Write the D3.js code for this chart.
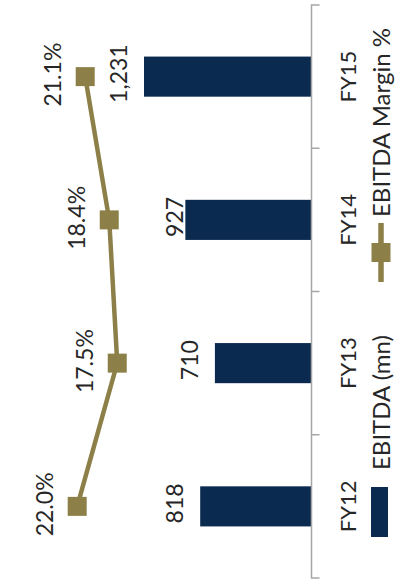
<!DOCTYPE html>
<html>
<head>
<meta charset="utf-8">
<script src="https://cdn.jsdelivr.net/npm/d3@7"></script>
<style>
  html, body { margin: 0; padding: 0; background: #fff; }
  svg { display: block; }
  text { font-family: Lato, "Open Sans", sans-serif; fill: #262626; }
</style>
</head>
<body>
<div id="chart"></div>
<script>
// data
const categories = ["FY12", "FY13", "FY14", "FY15"];
const ebitda = [818, 710, 927, 1231];
const margin = [22.0, 17.5, 18.4, 21.1];
const legendLabels = ["EBITDA (mn)", "EBITDA Margin %"];

const width = 401, height = 581;
const barColor = "#0b2a4f";
const lineColor = "#8c8048";
const axisColor = "#a6a6a6";

const svg = d3.select("#chart").append("svg")
    .attr("width", width)
    .attr("height", height);

// chart is drawn rotated: categories run bottom -> top, values grow leftwards
const axisX = 311.5;
const y = d3.scaleBand().domain(categories).range([578, 5]).padding(0);
const x = d3.scaleLinear().domain([0, 1400]).range([axisX, 121]);
const xPct = d3.scaleLinear().domain([0, 25]).range([273, 50.5]);

const barThick = y.bandwidth() * 0.28;
const rows = categories.map((c, i) => ({ cat: c, val: ebitda[i], pct: margin[i] }));

// bars
svg.append("g").selectAll("rect")
    .data(rows)
    .enter().append("rect")
    .attr("x", d => x(d.val))
    .attr("y", d => y(d.cat) + y.bandwidth() / 2 - barThick / 2)
    .attr("width", d => x(0) - x(d.val))
    .attr("height", barThick)
    .attr("fill", barColor);

// bar value labels
svg.append("g").selectAll("text")
    .data(rows)
    .enter().append("text")
    .attr("transform", d => {
        const gap = d.cat === "FY14" ? 2 : 17; // FY14 label sits right against its bar
        return `translate(${x(d.val) - gap},${y(d.cat) + y.bandwidth() / 2 - 3}) rotate(-90)`;
    })
    .attr("text-anchor", "middle")
    .attr("font-size", "23px")
    .text(d => d3.format(",")(d.val));

// category axis
const axis = svg.append("g").attr("transform", `translate(${axisX},0)`);
axis.append("path")
    .attr("d", `M8,${y.range()[0]}H0V${y.range()[1]}H8`)
    .attr("fill", "none")
    .attr("stroke", axisColor)
    .attr("stroke-width", 1.5);
axis.selectAll("line")
    .data(categories.slice(1))
    .enter().append("line")
    .attr("x1", 0).attr("x2", 8)
    .attr("y1", d => y(d) + y.bandwidth())
    .attr("y2", d => y(d) + y.bandwidth())
    .attr("stroke", axisColor)
    .attr("stroke-width", 1.5);
axis.selectAll("text")
    .data(categories)
    .enter().append("text")
    .attr("transform", d => `translate(${356 - axisX},${y(d) + y.bandwidth() / 2}) rotate(-90)`)
    .attr("text-anchor", "middle")
    .attr("font-size", "22px")
    .text(d => d);

// margin line
const line = d3.line()
    .x(d => xPct(d.pct))
    .y(d => y(d.cat) + y.bandwidth() / 2);
svg.append("path")
    .datum(rows)
    .attr("d", line)
    .attr("fill", "none")
    .attr("stroke", lineColor)
    .attr("stroke-width", 4.5);

const mk = 19;
svg.append("g").selectAll("rect")
    .data(rows)
    .enter().append("rect")
    .attr("x", d => xPct(d.pct) - mk / 2)
    .attr("y", d => y(d.cat) + y.bandwidth() / 2 - mk / 2)
    .attr("width", mk)
    .attr("height", mk)
    .attr("fill", lineColor);

svg.append("g").selectAll("text")
    .data(rows)
    .enter().append("text")
    .attr("transform", d => `translate(${xPct(d.pct) - 24},${y(d.cat) + y.bandwidth() / 2 - 2}) rotate(-90)`)
    .attr("text-anchor", "middle")
    .attr("font-size", "23px")
    .text(d => d.pct.toFixed(1) + "%");

// legend
const lg = svg.append("g");
lg.append("rect")
    .attr("x", 371).attr("y", 487)
    .attr("width", 17).attr("height", 50)
    .attr("fill", barColor);
lg.append("text")
    .attr("transform", "translate(390,470) rotate(-90)")
    .attr("font-size", "24px")
    .text(legendLabels[0]);
lg.append("line")
    .attr("x1", 381).attr("x2", 381)
    .attr("y1", 223).attr("y2", 282)
    .attr("stroke", lineColor)
    .attr("stroke-width", 5.5);
lg.append("rect")
    .attr("x", 371.5).attr("y", 243)
    .attr("width", mk).attr("height", mk)
    .attr("fill", lineColor);
lg.append("text")
    .attr("transform", "translate(390,217) rotate(-90)")
    .attr("font-size", "24px")
    .text(legendLabels[1]);
</script>
</body>
</html>
